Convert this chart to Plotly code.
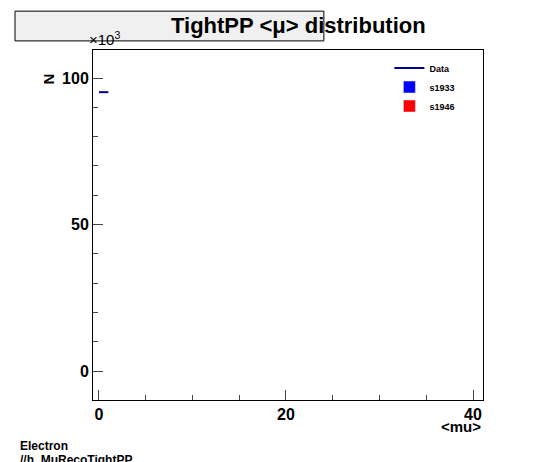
import plotly.graph_objects as go

bin_edges = [0, 1]
data_vals = [95200, 95200]
y_tickvals = [0, 50000, 100000]
y_ticktext = ["<b>0</b>", "<b>50</b>", "<b>100</b>"]
x_tickvals = [0, 20, 40]
x_ticktext = ["<b>0</b>", "<b>20</b>", "<b>40</b>"]

fig = go.Figure()
fig.add_trace(go.Scatter(x=bin_edges, y=data_vals, mode="lines", line=dict(color="#00008b", width=2), name="<b>Data</b>"))
fig.add_trace(go.Bar(x=[None], y=[None], marker_color="blue", name="<b>s1933</b>"))
fig.add_trace(go.Bar(x=[None], y=[None], marker_color="red", name="<b>s1946</b>"))

ax = dict(showline=True, linecolor="black", mirror=True, ticks="inside", showgrid=False, zeroline=False,
          automargin=False, tickfont=dict(family="Liberation Sans", size=16, color="black"))
fig.update_layout(
    width=546, height=462, paper_bgcolor="white", plot_bgcolor="white",
    margin=dict(l=85, r=71, t=42, b=70, autoexpand=False),
    xaxis=dict(range=[-0.64, 41.07], tickvals=x_tickvals, ticktext=x_ticktext, ticklen=10,
               minor=dict(ticks="inside", ticklen=5, dtick=5), **ax),
    yaxis=dict(range=[-9900, 109600], tickvals=y_tickvals, ticktext=y_ticktext, ticklen=10,
               minor=dict(ticks="inside", ticklen=5, dtick=10000), **ax),
    showlegend=True,
    legend=dict(x=0.76, y=0.99, xanchor="left", yanchor="top", font=dict(family="Liberation Sans", size=9, color="black"),
                bgcolor="rgba(0,0,0,0)", itemwidth=30, tracegroupgap=0),
    font=dict(family="Liberation Sans"),
)
fig.add_shape(type="rect", xref="paper", yref="paper", x0=-0.2, x1=0.592, y0=1.026, y1=1.111,
              fillcolor="#f0f0f0", line=dict(color="black", width=1))
fig.add_annotation(xref="paper", yref="paper", x=0.196, y=1.071, yanchor="middle",
                   text="<b>TightPP &lt;μ&gt; distribution</b>", showarrow=False,
                   font=dict(size=22, color="black"))
fig.add_annotation(xref="paper", yref="paper", x=-0.015, y=1.0, xanchor="left", yanchor="bottom", text="×10<sup>3</sup>",
                   showarrow=False, font=dict(size=15, color="black"))
fig.add_annotation(xref="paper", yref="paper", x=-0.14, y=0.94, text="<b>N</b>", textangle=-90, showarrow=False,
                   font=dict(size=15, color="black"))
fig.add_annotation(xref="paper", yref="paper", x=1.0, y=-0.077, xanchor="right", yanchor="middle",
                   text="<b>&lt;mu&gt;</b>", showarrow=False, font=dict(size=15, color="black"))
fig.add_annotation(xref="paper", yref="paper", x=-0.192, y=-0.131, xanchor="left", yanchor="middle",
                   text="<b>Electron</b>", showarrow=False, font=dict(size=12, color="black"))
fig.add_annotation(xref="paper", yref="paper", x=-0.192, y=-0.171, xanchor="left", yanchor="middle",
                   text="<b>//h_MuRecoTightPP</b>", showarrow=False, font=dict(size=12, color="black"))
fig.write_html("out.html")
